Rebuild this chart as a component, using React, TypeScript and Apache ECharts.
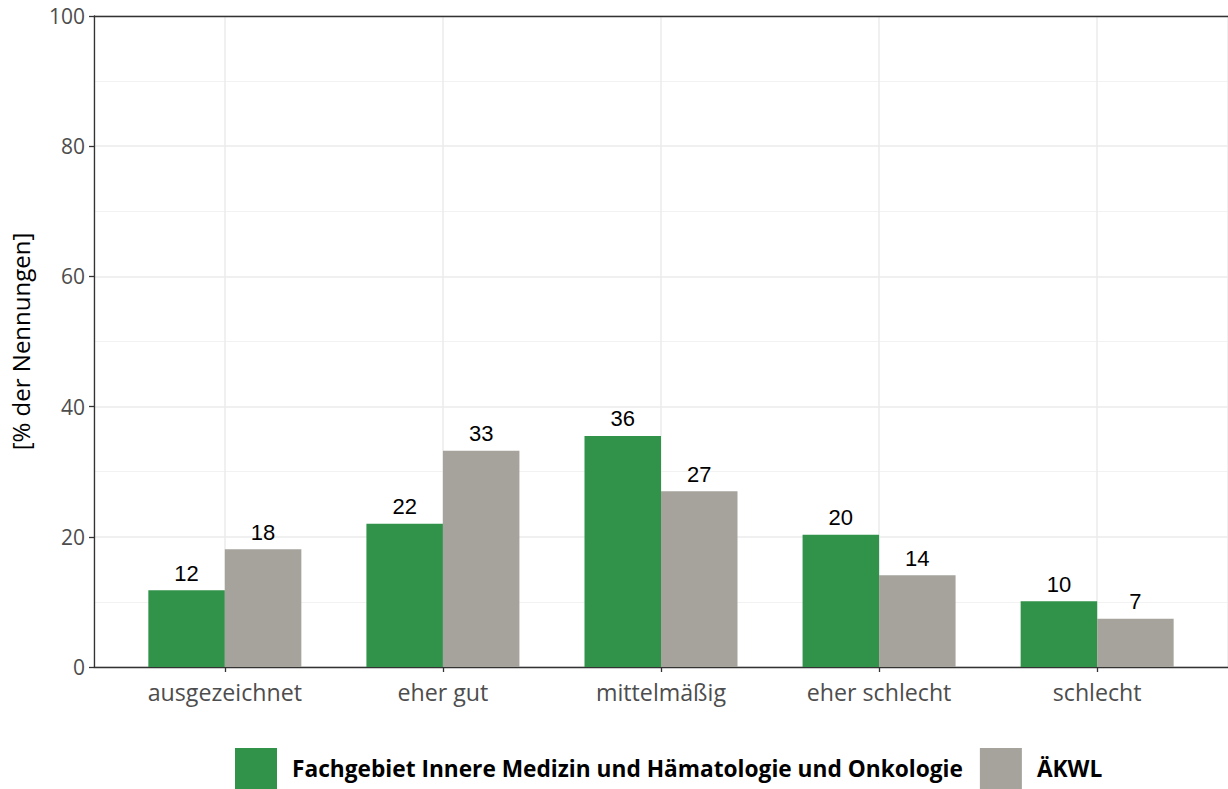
import React, { useEffect, useRef } from "react";
import * as echarts from "echarts";

const categories = ["ausgezeichnet", "eher gut", "mittelmäßig", "eher schlecht", "schlecht"];
const seriesNames = ["Fachgebiet Innere Medizin und Hämatologie und Onkologie", "ÄKWL"];
const fachValues = [11.8, 22.0, 35.5, 20.3, 10.1];
const aekwlValues = [18.1, 33.2, 27.0, 14.1, 7.4];
const fachLabels = ["12", "22", "36", "20", "10"];
const aekwlLabels = ["18", "33", "27", "14", "7"];
const yTicks = [0, 20, 40, 60, 80, 100];
const colors = ["#31924a", "#a6a39c"];

export default function App() {
  const ref = useRef<HTMLDivElement>(null);
  useEffect(() => {
    if (!ref.current) return;
    const chart = echarts.init(ref.current, undefined, { renderer: "svg" });
    const labelFont = { fontFamily: "Liberation Sans", fontSize: 22, color: "#000" };
    const mk = (vals: number[], labels: string[]) =>
      vals.map((v, i) => ({ value: [i + 1, v], label: { formatter: labels[i] } }));
    chart.setOption({
      animation: false,
      textStyle: { fontFamily: "Open Sans" },
      grid: { left: 94, right: 0, top: 16, bottom: 122, containLabel: false },
      legend: {
        data: seriesNames,
        bottom: 0,
        left: 235,
        itemWidth: 42,
        itemHeight: 41,
        itemGap: 17,
        icon: "rect",
        textStyle: { fontFamily: "Open Sans", fontWeight: "bold", fontSize: 22.7, color: "#000", padding: [0, 0, 0, 10] },
        padding: 0,
      },
      xAxis: [
        {
          type: "value",
          min: 0.4,
          max: 5.6,
          splitNumber: 5,
          axisLine: { show: true, onZero: false, lineStyle: { color: "#333", width: 1.3 } },
          axisTick: { show: true, length: 5, lineStyle: { color: "#333", width: 1.3 } },
          axisLabel: {
            color: "#4d4d4d",
            fontSize: 23.2,
            fontFamily: "Open Sans",
            margin: 13,
            showMinLabel: false,
            showMaxLabel: false,
            formatter: (v: number) => (Number.isInteger(v) && v >= 1 && v <= 5 ? categories[v - 1] : ""),
          },
          splitLine: { show: true, lineStyle: { color: "#ebebeb", width: 1.5 } },
        },
        {
          type: "value",
          position: "top",
          min: 0.4,
          max: 5.6,
          axisLine: { show: true, onZero: false, lineStyle: { color: "#333", width: 1.3 } },
          axisTick: { show: false },
          axisLabel: { show: false },
          splitLine: { show: false },
        },
      ],
      yAxis: {
        type: "value",
        min: 0,
        max: 100,
        interval: 20,
        name: "[% der Nennungen]",
        nameLocation: "middle",
        nameGap: 62,
        nameTextStyle: { fontFamily: "Open Sans", fontSize: 24, color: "#000" },
        axisLine: { show: true, lineStyle: { color: "#333", width: 1.3 } },
        axisTick: { show: true, length: 5, lineStyle: { color: "#333", width: 1.3 } },
        axisLabel: {
          color: "#4d4d4d",
          fontSize: 21,
          fontFamily: "Open Sans",
          margin: 9,
          formatter: (v: number) => (yTicks.includes(v) ? String(v) : ""),
        },
        splitLine: { show: true, lineStyle: { color: "#ebebeb", width: 1.5 } },
        minorTick: { show: false, splitNumber: 2 },
        minorSplitLine: { show: true, lineStyle: { color: "#f2f2f2", width: 1 } },
      },
      series: [
        {
          name: seriesNames[0],
          type: "bar",
          data: mk(fachValues, fachLabels),
          barWidth: 76.5,
          barGap: "0%",
          itemStyle: { color: colors[0] },
          label: { show: true, position: "top", distance: 6, ...labelFont },
        },
        {
          name: seriesNames[1],
          type: "bar",
          data: mk(aekwlValues, aekwlLabels),
          barWidth: 76.5,
          barGap: "0%",
          itemStyle: { color: colors[1] },
          label: { show: true, position: "top", distance: 6, ...labelFont },
        },
      ],
    });
    return () => chart.dispose();
  }, []);
  return <div ref={ref} style={{ width: 1228, height: 789, position: "absolute", left: 0, top: 0 }} />;
}
